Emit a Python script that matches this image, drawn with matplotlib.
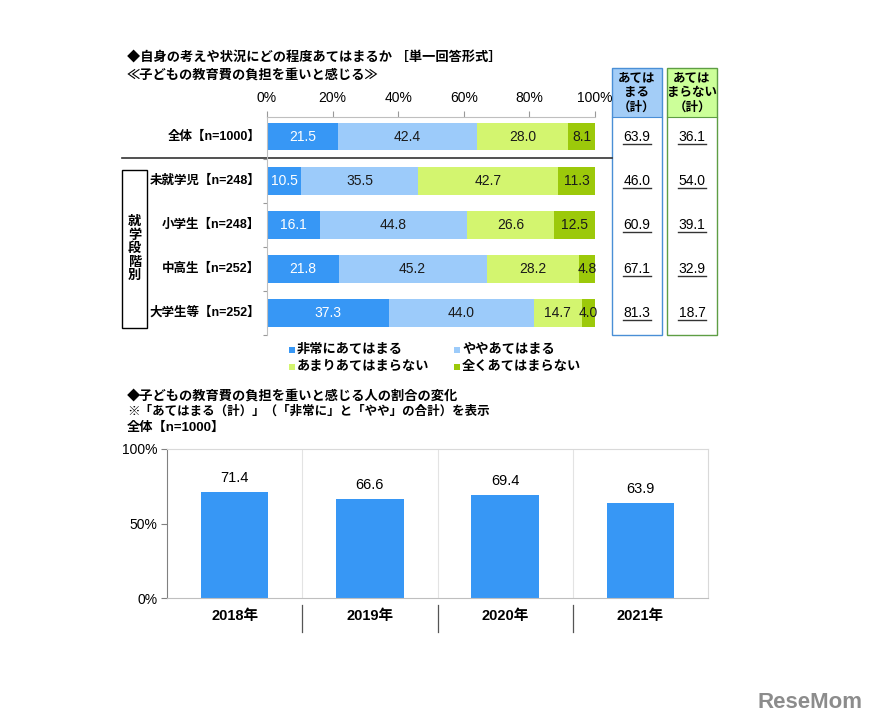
import matplotlib
matplotlib.use("Agg")
import matplotlib.pyplot as plt
from matplotlib.transforms import blended_transform_factory
from matplotlib.patches import Rectangle
import numpy as np

plt.rcParams["font.family"] = ["Liberation Sans", "Noto Sans CJK JP", "DejaVu Sans"]

# ---- data ----
groups = ["全体【n=1000】", "未就学児【n=248】", "小学生【n=248】", "中高生【n=252】", "大学生等【n=252】"]
answers = ["非常にあてはまる", "ややあてはまる", "あまりあてはまらない", "全くあてはまらない"]
very = [21.5, 10.5, 16.1, 21.8, 37.3]
somewhat = [42.4, 35.5, 44.8, 45.2, 44.0]
not_much = [28.0, 42.7, 26.6, 28.2, 14.7]
not_at_all = [8.1, 11.3, 12.5, 4.8, 4.0]
applies_total = [63.9, 46.0, 60.9, 67.1, 81.3]
not_applies_total = [36.1, 54.0, 39.1, 32.9, 18.7]

years = ["2018年", "2019年", "2020年", "2021年"]
year_vals = [71.4, 66.6, 69.4, 63.9]

colors = ["#3797F5", "#9CCBFA", "#D3F56F", "#9CC90A"]
text_colors = ["white", "#1a1a1a", "#1a1a1a", "#1a1a1a"]

W, H = 874, 726


def box(x0, y0, x1, y1):
    return [x0 / W, 1 - y1 / H, (x1 - x0) / W, (y1 - y0) / H]


fig = plt.figure(figsize=(W / 100, H / 100), dpi=100)

# overlay in pixel coordinates for boxes / titles
ov = fig.add_axes([0, 0, 1, 1])
ov.set_xlim(0, W)
ov.set_ylim(H, 0)
ov.axis("off")
ov.patch.set_alpha(0)

ov.text(127, 58, "◆自身の考えや状況にどの程度あてはまるか ［単一回答形式］", fontsize=9.5, weight="bold", va="center")
ov.text(127, 75, "≪子どもの教育費の負担を重いと感じる≫", fontsize=9.5, weight="bold", va="center")

# separator line and group box
ov.plot([122, 612], [158, 158], color="#333333", lw=1.2, zorder=5)
ov.add_patch(Rectangle((122, 170), 25, 158, fill=False, ec="black", lw=1.0))
for i, ch in enumerate("就学段階別"):
    ov.text(134.5, 222 + i * 13.5, ch, fontsize=9.5, weight="bold", ha="center", va="center")

# right summary boxes
ov.add_patch(Rectangle((612, 68), 50, 49, fc="#A3CDF7", ec="none"))
ov.add_patch(Rectangle((612, 68), 50, 267, fill=False, ec="#4A8FD6", lw=1.0))
ov.plot([612, 662], [117, 117], color="#4A8FD6", lw=0.8)
ov.add_patch(Rectangle((667, 68), 50, 49, fc="#CCFF99", ec="none"))
ov.add_patch(Rectangle((667, 68), 50, 267, fill=False, ec="#5E9E44", lw=1.0))
ov.plot([667, 717], [117, 117], color="#5E9E44", lw=0.8)
for cx, lines in [(637, ["あては", "まる", "（計）"]), (692, ["あては", "まらない", "（計）"])]:
    for i, t in enumerate(lines):
        ov.text(cx, 78 + i * 15, t, fontsize=9, weight="bold", ha="center", va="center")

# legend
leg_pos = [(292, 350), (457, 350), (292, 367), (457, 367)]
for (lx, ly), lab, c in zip(leg_pos, answers, colors):
    ov.add_patch(Rectangle((lx - 3, ly - 3), 6, 6, fc=c, ec="none"))
    ov.text(lx + 5, ly, lab, fontsize=9.5, weight="bold", va="center")

# ---- stacked bar chart ----
ax = fig.add_axes(box(267, 117, 595, 335))
ax.patch.set_alpha(0)
y = np.arange(len(groups))
left = np.zeros(len(groups))
for vals, c, tc in zip([very, somewhat, not_much, not_at_all], colors, text_colors):
    vals = np.array(vals)
    ax.barh(y, vals, left=left, height=0.62, color=c, edgecolor="none")
    for yi, l, v in zip(y, left, vals):
        ax.text(l + v / 2, yi, f"{v:.1f}", ha="center", va="center", fontsize=10, color=tc)
    left += vals
ax.set_xlim(0, 100)
ax.set_ylim(4.5, -0.45)
ax.xaxis.tick_top()
ax.set_xticks(range(0, 101, 20))
ax.set_xticklabels([f"{t}%" for t in range(0, 101, 20)], fontsize=10)
ax.set_yticks(np.arange(0.5, 5, 1))
ax.set_yticklabels([])
ax.tick_params(axis="x", length=4, color="#999999", pad=5)
ax.tick_params(axis="y", length=3, color="#999999")
for s in ["right", "bottom"]:
    ax.spines[s].set_visible(False)
for s in ["left", "top"]:
    ax.spines[s].set_color("#BFBFBF")

tr = blended_transform_factory(ax.transAxes, ax.transData)
for yi, g in zip(y, groups):
    ax.text(-0.02, yi, g, transform=tr, ha="right", va="center", fontsize=9, weight="bold")
for yi, a, b in zip(y, applies_total, not_applies_total):
    for xa, v in [(1.128, a), (1.296, b)]:
        ax.text(xa, yi, f"{v:.1f}", transform=tr, ha="center", va="center", fontsize=10, clip_on=False)
        ax.plot([xa - 0.042, xa + 0.042], [yi + 0.17, yi + 0.17], transform=tr, color="#333333", lw=1.0, clip_on=False)

# ---- yearly chart ----
ov.text(127, 396, "◆子どもの教育費の負担を重いと感じる人の割合の変化", fontsize=9.5, weight="bold", va="center")
ov.text(127, 412, "※「あてはまる（計）」（「非常に」と「やや」の合計）を表示", fontsize=9, weight="bold", va="center")
ov.text(127, 428, "全体【n=1000】", fontsize=9.5, weight="bold", va="center")

ax2 = fig.add_axes(box(167, 449, 708, 598))
xs = np.arange(len(years))
ax2.bar(xs, year_vals, width=0.5, color="#3797F5")
for xi, v in zip(xs, year_vals):
    ax2.annotate(f"{v:.1f}", (xi, v), xytext=(0, 10), textcoords="offset points",
                 ha="center", va="center", fontsize=10.5)
ax2.set_xlim(-0.5, len(years) - 0.5)
ax2.set_ylim(0, 100)
ax2.set_yticks([0, 50, 100])
ax2.set_yticklabels(["0%", "50%", "100%"], fontsize=10)
ax2.set_xticks(xs)
ax2.set_xticklabels(years, fontsize=10.5, weight="bold")
ax2.tick_params(axis="x", length=0, pad=8)
ax2.tick_params(axis="y", length=4, color="#808080", pad=3)
for s in ["top", "right", "bottom"]:
    ax2.spines[s].set_color("#D9D9D9")
ax2.spines["left"].set_color("#808080")
ax2.spines["bottom"].set_color("#BFBFBF")
for xb in xs[:-1] + 0.5:
    ax2.axvline(xb, color="#E3E3E3", lw=0.8)
    ax2.plot([xb, xb], [-0.05, -0.23], transform=blended_transform_factory(ax2.transData, ax2.transAxes),
             color="#555555", lw=0.9, clip_on=False)

# watermark
ov.text(810, 703, "ReseMom", fontsize=16, weight="bold", color="#8C8C8C", ha="center", va="center")

fig.savefig("out.png", dpi=100)
